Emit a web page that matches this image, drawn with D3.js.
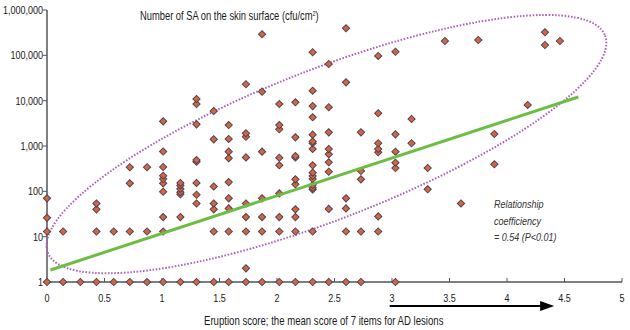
<!DOCTYPE html>
<html>
<head>
<meta charset="utf-8">
<script src="https://cdn.jsdelivr.net/npm/d3@7"></script>
<style>
body { margin: 0; background: #fff; }
text { font-family: "Liberation Sans", Arial, sans-serif; fill: #1a1a1a; }
</style>
</head>
<body>
<svg id="chart" width="630" height="330"></svg>
<script>
// eruption score of each column of points (multiples of 1/7)
var columnScores = [0, 0.14, 0.29, 0.43, 0.58, 0.72, 0.87, 1.01, 1.16, 1.30, 1.45, 1.58, 1.73, 1.87,
    2.02, 2.16, 2.31, 2.45, 2.60, 2.73, 2.88, 3.03, 3.17, 3.31, 3.46, 3.60, 3.75, 3.89, 4.18, 4.33, 4.46];

// SA counts (cfu/cm2) found in each column
var columnCounts = [
    [1, 13, 26, 70],
    [1, 13],
    [1],
    [1, 13, 40, 54],
    [1, 13],
    [1, 13, 150, 340],
    [1, 13, 340],
    [1, 13, 27, 98, 150, 187, 221, 344, 757, 3500],
    [1, 27, 86, 96, 113, 135, 153],
    [1, 54, 84, 153, 451, 490, 3000, 8450, 10900],
    [1, 13, 40, 54, 128, 1400, 5900],
    [1, 13, 42, 70, 160, 540, 750, 1430, 2900],
    [1, 2, 13, 27, 54, 560, 1600, 1900, 23000],
    [1, 13, 27, 70, 750, 15800, 291000],
    [1, 13, 27, 90, 375, 550, 2340, 2900, 8450],
    [1, 13, 27, 40, 143, 184, 560, 600, 1550, 9200],
    [1, 13, 110, 120, 138, 187, 218, 258, 375, 860, 1150, 1250, 1780, 4300, 7600, 16600, 117000],
    [1, 41, 271, 437, 656, 860, 2000, 7150, 64400],
    [1, 13, 42, 70, 25400, 395000],
    [1, 13, 184, 281, 2000],
    [13, 28, 727, 860, 1150, 5270, 96800],
    [1, 327, 428, 749, 1810, 120000],
    [1150, 3945],
    [111, 327],
    [207000],
    [54],
    [218000],
    [395, 1840],
    [8040],
    [169000, 322000],
    [207000]
];

var yTickValues = [1, 10, 100, 1000, 10000, 100000, 1000000];
var xTickValues = [0, 0.5, 1, 1.5, 2, 2.5, 3, 3.5, 4, 4.5, 5];

// regression line end points
var trendScores = [0.03, 4.62];
var trendCounts = [1.84, 12050];

// dotted ellipse round the cloud
var ellipseCenter = {score: 2.43, count: 1100};

var arrowScores = [2.98, 4.41];

var noteLines = ["Relationship", "coefficiency", "= 0.54 (P<0.01)"];

var svg = d3.select("#chart");

var xScale = d3.scaleLinear().domain([0, 5]).range([47, 622]);
var yScale = d3.scaleLog().domain([1, 1000000]).range([282, 10]);

// the original uses a condensed face; squeeze a normal one sideways
const narrowText = (parent, x, y, str, size, squeeze, anchor) => {
    return parent.append("text")
        .attr("transform", "translate(" + x + "," + y + ") scale(" + squeeze + ",1)")
        .attr("text-anchor", anchor || "start")
        .attr("style", "font-size: " + size + "px")
        .text(str);
};

var points = [];
columnScores.forEach(function (s, i) {
    columnCounts[i].forEach(function (c) {
        points.push({score: s, count: c});
    });
});

// axes
var axisColor = "#555";
svg.append("line")
    .attr("x1", xScale(0)).attr("x2", xScale(0))
    .attr("y1", yScale(1000000)).attr("y2", yScale(1))
    .attr("stroke", axisColor).attr("stroke-width", 1.5);
svg.append("line")
    .attr("x1", xScale(0)).attr("x2", xScale(5))
    .attr("y1", yScale(1)).attr("y2", yScale(1))
    .attr("stroke", axisColor).attr("stroke-width", 1.5);

var fmt = d3.format(",");
var yTicks = svg.append("g");
yTicks.selectAll("line")
    .data(yTickValues)
    .enter()
    .append("line")
    .attr("x1", xScale(0) - 4).attr("x2", xScale(0))
    .attr("y1", function (d) { return yScale(d); })
    .attr("y2", function (d) { return yScale(d); })
    .attr("stroke", axisColor);
yTickValues.forEach(function (d) {
    narrowText(yTicks, xScale(0) - 4, yScale(d) + 4, fmt(d), 11, 0.82, "end");
});

var xTicks = svg.append("g");
xTicks.selectAll("line")
    .data(xTickValues)
    .enter()
    .append("line")
    .attr("x1", function (d) { return xScale(d); })
    .attr("x2", function (d) { return xScale(d); })
    .attr("y1", yScale(1) - 4).attr("y2", yScale(1))
    .attr("stroke", axisColor);
xTickValues.forEach(function (d) {
    narrowText(xTicks, xScale(d), 302, String(d), 11, 0.82, "middle");
});

// ellipse
var ec = [xScale(ellipseCenter.score), yScale(ellipseCenter.count)];
svg.append("ellipse")
    .attr("cx", 0).attr("cy", 0)
    .attr("rx", 299).attr("ry", 75)
    .attr("transform", "translate(" + ec[0] + "," + ec[1] + ") rotate(-21.3)")
    .attr("fill", "none")
    .attr("stroke", "#aa66b8")
    .attr("stroke-width", 2)
    .attr("stroke-dasharray", "1.6,1.6");

// points
svg.append("g")
    .attr("id", "allPoints")
    .selectAll("path")
    .data(points)
    .enter()
    .append("path")
    .attr("d", d3.symbol().type(d3.symbolSquare).size(26))
    .attr("transform", function (d) {
        return "translate(" + xScale(d.score) + "," + yScale(d.count) + ") rotate(45)";
    })
    .attr("fill", "#d1683b")
    .attr("stroke", "#55405a")
    .attr("stroke-width", 1);

// regression line
svg.append("line")
    .attr("x1", xScale(trendScores[0])).attr("y1", yScale(trendCounts[0]))
    .attr("x2", xScale(trendScores[1])).attr("y2", yScale(trendCounts[1]))
    .attr("stroke", "#6cbd43")
    .attr("stroke-width", 3);

// titles
var title = narrowText(svg, 140, 20, "Number of SA on the skin surface (cfu/cm", 12, 0.78, "start");
title.append("tspan").attr("dy", -4).attr("style", "font-size: 7px").text("2");
title.append("tspan").attr("dy", 4).text(")");

narrowText(svg, 204, 325, "Eruption score; the mean score of 7 items for AD lesions", 12, 0.8, "start");

noteLines.forEach(function (d, i) {
    narrowText(svg, 494, 208 + i * 16.5, d, 11, 0.82, "start")
        .attr("style", "font-size: 11px; font-style: italic; fill: #333");
});

// arrow under the x axis
var ay = 306;
svg.append("line")
    .attr("x1", xScale(arrowScores[0])).attr("x2", xScale(arrowScores[1]) - 10)
    .attr("y1", ay).attr("y2", ay)
    .attr("stroke", "#000").attr("stroke-width", 2);
svg.append("path")
    .attr("d", "M" + xScale(arrowScores[1]) + "," + ay +
        "L" + (xScale(arrowScores[1]) - 14) + "," + (ay - 5) +
        "L" + (xScale(arrowScores[1]) - 14) + "," + (ay + 5) + "Z")
    .attr("fill", "#000");
</script>
</body>
</html>
